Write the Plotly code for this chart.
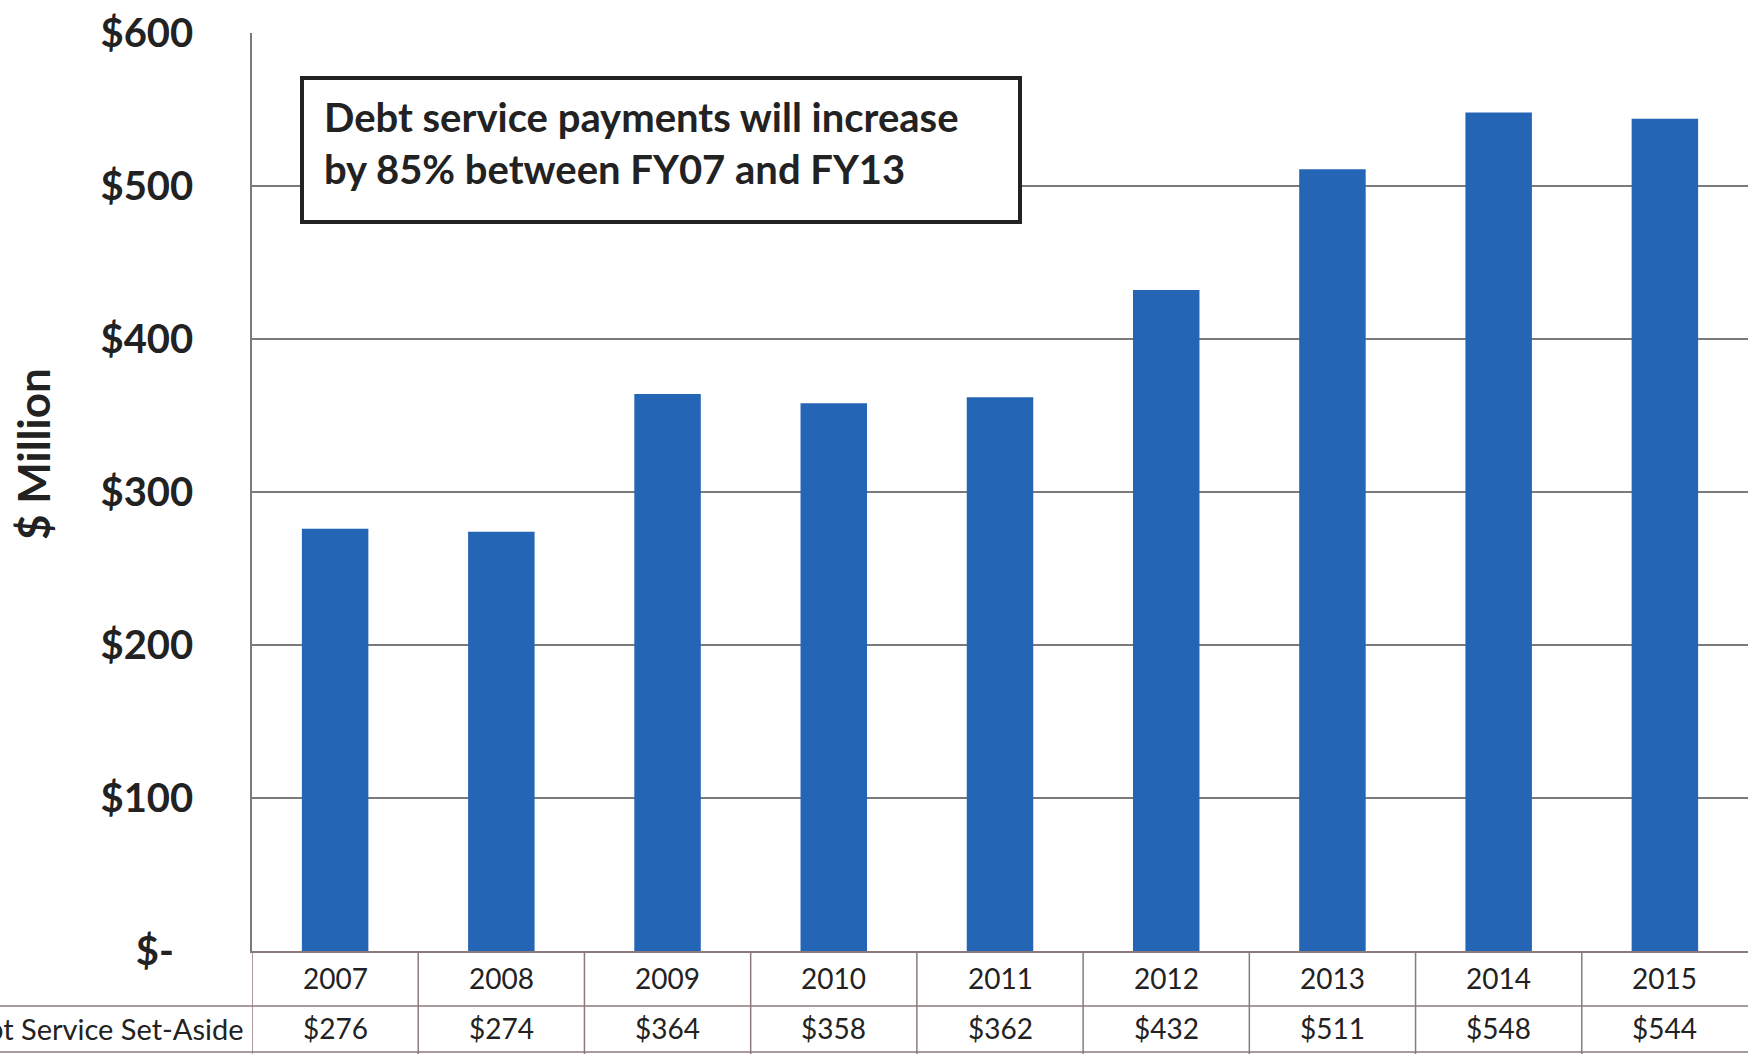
import plotly.graph_objects as go

years = ["2007", "2008", "2009", "2010", "2011", "2012", "2013", "2014", "2015"]
debt_service = [276, 274, 364, 358, 362, 432, 511, 548, 544]
value_labels = ["$276", "$274", "$364", "$358", "$362", "$432", "$511", "$548", "$544"]
y_tickvals = [0, 100, 200, 300, 400, 500, 600]
y_ticktext = ["$-\u00a0\u00a0", "$100", "$200", "$300", "$400", "$500", "$600"]
row_label = "Debt Service Set-Aside"
callout_text = "Debt service payments will increase<br>by 85% between FY07 and FY13"

W, H = 1752, 1054
L, R, T, B = 252, 4, 33, 103
PW, PH = W - L - R, H - T - B


def px_x(x):
    return (x - L) / PW


def px_y(y):
    return (H - B - y) / PH


FONT = "Lato, 'Open Sans', sans-serif"
TXT = "#222222"
TABLE_LINE = "#8c7a7a"

fig = go.Figure()
fig.add_trace(go.Bar(
    x=years, y=debt_service,
    marker=dict(color="#2465b5", line=dict(width=0)),
    hoverinfo="x+y",
))

shapes = []
# table horizontal lines
for yy in [1006, 1052]:
    shapes.append(dict(type="line", xref="paper", yref="paper",
                       x0=px_x(0), x1=1, y0=px_y(yy), y1=px_y(yy),
                       line=dict(color=TABLE_LINE, width=1.5)))
# table vertical lines at category boundaries
for i in range(len(years)):
    shapes.append(dict(type="line", xref="x", yref="paper",
                       x0=i - 0.5, x1=i - 0.5, y0=0, y1=px_y(1054),
                       line=dict(color=TABLE_LINE, width=1.5)))
# callout box
shapes.append(dict(type="rect", xref="paper", yref="paper",
                   x0=px_x(302), x1=px_x(1020), y0=px_y(222), y1=px_y(78),
                   line=dict(color="#222222", width=4), fillcolor="white", layer="above"))

annotations = []
for i, (yr, lab) in enumerate(zip(years, value_labels)):
    annotations.append(dict(x=i, xref="x", y=px_y(978), yref="paper", text=yr,
                            showarrow=False, yanchor="middle", xanchor="center",
                            font=dict(family=FONT, size=28, color=TXT)))
    annotations.append(dict(x=i, xref="x", y=px_y(1028), yref="paper", text=lab,
                            showarrow=False, yanchor="middle", xanchor="center",
                            font=dict(family=FONT, size=28, color=TXT)))
annotations.append(dict(x=px_x(246), xref="paper", y=px_y(1028), yref="paper",
                        text=row_label, showarrow=False, xanchor="right", yanchor="middle",
                        font=dict(family=FONT, size=29, color=TXT)))
annotations.append(dict(x=px_x(33), xref="paper", y=px_y(454), yref="paper",
                        text="$ Million", textangle=-90, showarrow=False,
                        xanchor="center", yanchor="middle",
                        font=dict(family=FONT, size=44, color=TXT, weight="bold")))
annotations.append(dict(x=px_x(322), xref="paper", y=px_y(143), yref="paper",
                        text=callout_text, showarrow=False, xanchor="left", yanchor="middle",
                        align="left",
                        font=dict(family=FONT, size=40, color=TXT, weight="bold")))

fig.update_layout(
    width=W, height=H,
    margin=dict(l=L, r=R, t=T, b=B, pad=0),
    paper_bgcolor="white", plot_bgcolor="white",
    bargap=0.6,
    showlegend=False,
    shapes=shapes,
    annotations=annotations,
    xaxis=dict(type="category", showticklabels=False, ticks="", showgrid=False,
               showline=True, linecolor=TABLE_LINE, linewidth=1.5, zeroline=False,
               range=[-0.5, len(years) - 0.5]),
    yaxis=dict(range=[0, 600], tickvals=y_tickvals, ticktext=y_ticktext,
               showgrid=True, gridcolor="#7a7a7a", gridwidth=1.5,
               showline=True, linecolor="#7a7a7a", linewidth=1.5,
               zeroline=False, ticks="", ticklabelstandoff=49,
               tickfont=dict(family=FONT, size=40, color=TXT, weight="bold")),
)

fig.write_html("out.html")
